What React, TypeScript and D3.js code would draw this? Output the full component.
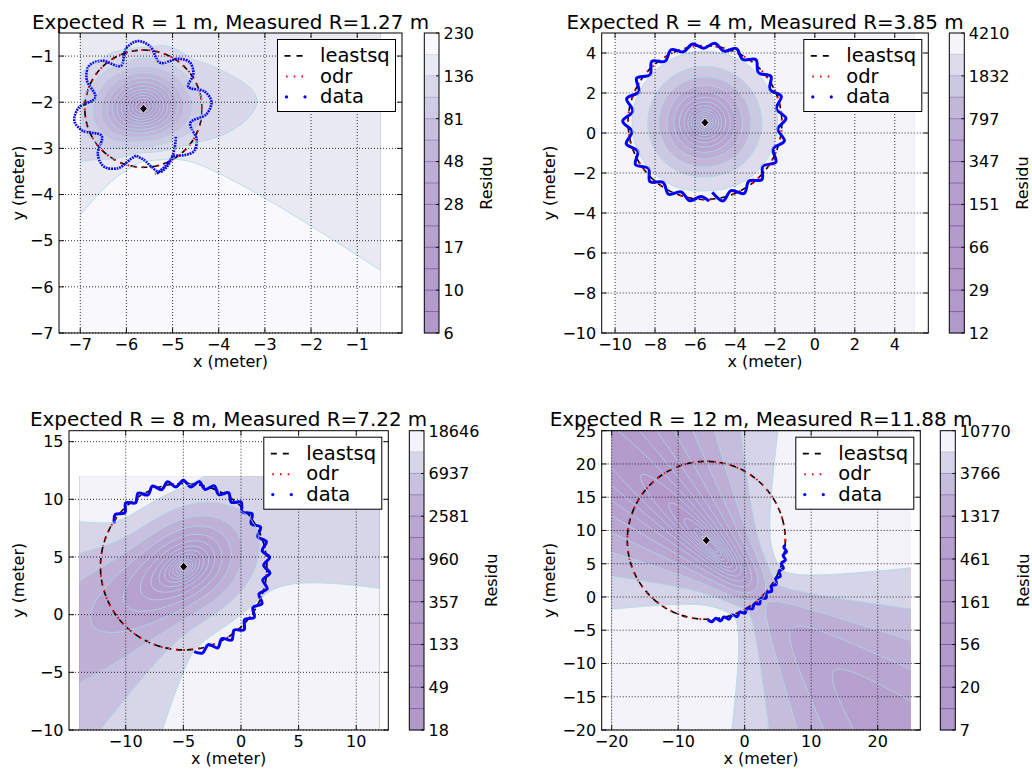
import React from "react";
import * as d3 from "d3";

type Pt = [number, number];

// ---------------- data ----------------
const TITLES = [
  "Expected R = 1 m, Measured R=1.27 m",
  "Expected R = 4 m, Measured R=3.85 m",
  "Expected R = 8 m, Measured R=7.22 m",
  "Expected R = 12 m, Measured R=11.88 m",
];
const LEGEND_LABELS = ["leastsq", "odr", "data"];
const X_LABEL = "x (meter)";
const Y_LABEL = "y (meter)";
const CBAR_LABEL = "Residu";

// fitted circle: centre x, centre y, radius (m)
const FIT_1: [number, number, number] = [-5.63, -2.14, 1.27];
const FIT_2: [number, number, number] = [-5.5, 0.52, 3.85];
const FIT_3: [number, number, number] = [-4.97, 4.16, 7.22];
const FIT_4: [number, number, number] = [-5.77, 8.52, 11.88];

// measured track, read as [angle (deg), distance (m)] about the fitted centre
const DATA_1: Pt[] = [
  [-41, 0.93], [-50, 1.06], [-59, 1.21], [-66, 1.33], [-71, 1.39], [-75, 1.42], [-77, 1.4], [-79, 1.36],
  [-81, 1.3], [-83, 1.25], [-85, 1.2], [-87, 1.15], [-89, 1.12], [-91, 1.09], [-93, 1.07], [-95, 1.06],
  [-97, 1.04], [-99, 1.03], [-101, 1.06], [-104, 1.12], [-108, 1.24],
  [-113, 1.4], [-124, 1.52], [-135, 1.4], [-147, 1.08],
  [-160, 1.4], [-170, 1.52], [-181, 1.4], [-193, 1.07],
  [-207, 1.38], [-218, 1.5], [-229, 1.38], [-242, 1.05],
  [-254, 1.36], [-265, 1.47], [-276, 1.36], [-290, 1.06],
  [-305, 1.32], [-315, 1.42], [-325, 1.32], [-334, 1.08],
  [-344, 1.37], [-354, 1.48], [-365, 1.37], [-377, 1.06],
  [-390, 1.33], [-400, 1.43], [-408, 1.35], [-418, 1.22], [-425, 1.28], [-430, 1.34], [-434, 1.38],
  [-437, 1.42], [-440, 1.43],
];
const DATA_2: Pt[] = [
  [-84, 3.5], [-77, 4.02], [-69, 3.64], [-61, 4.05], [-53, 3.66], [-45, 4.03], [-37, 3.63], [-29, 4.06],
  [-21, 3.65], [-13, 4.08], [-5, 3.66], [3, 4.06], [11, 3.64], [19, 4.04], [27, 3.65], [35, 4.03],
  [43, 3.66], [51, 4.05], [59, 3.68], [67, 4.02], [75, 3.7], [83, 4.0], [91, 3.72], [99, 3.98],
  [107, 3.7], [115, 4.02], [123, 3.66], [131, 4.06], [139, 3.64], [147, 4.08], [155, 3.65], [163, 4.1],
  [171, 3.66], [179, 4.12], [187, 3.68], [195, 4.08], [203, 3.66], [211, 4.06], [219, 3.64], [227, 4.04],
  [235, 3.65], [243, 4.02], [251, 3.66], [259, 3.98], [267, 3.7], [273, 3.93],
];
const DATA_3: Pt[] = [
  [148, 7.1], [142.75, 7.46], [137.5, 6.92], [132.25, 7.48], [127, 6.94], [121.75, 7.5], [116.5, 6.95],
  [111.25, 7.5], [106, 6.94], [100.75, 7.49], [95.5, 6.95], [90.25, 7.5], [85, 6.94], [79.75, 7.5],
  [74.5, 6.95], [69.25, 7.49], [64, 6.94], [58.75, 7.5], [53.5, 6.95], [48.25, 7.49], [43, 6.94],
  [37.75, 7.5], [32.5, 6.95], [27.25, 7.5], [22, 6.94], [16.75, 7.49], [11.5, 6.95], [6.25, 7.5],
  [1, 6.94], [-4.25, 7.5], [-9.5, 6.95], [-14.75, 7.49], [-20, 6.95], [-25.25, 7.51], [-30.5, 6.97],
  [-35.75, 7.54], [-41, 7.0], [-46.25, 7.57], [-51.5, 7.03], [-56.75, 7.6], [-62, 7.06], [-67.25, 7.63],
  [-72.5, 7.09], [-77.75, 7.66], [-83, 7.42],
];
const DATA_4: Pt[] = [
  [-89, 11.95], [-86, 12.27], [-83, 11.8], [-80, 12.3], [-77, 11.83], [-74, 12.33], [-71, 11.87],
  [-68, 12.37], [-65, 11.9], [-62, 12.4], [-59, 11.93], [-56, 12.43], [-53, 11.96], [-50, 12.46],
  [-47, 11.99], [-44, 12.48], [-41, 11.98], [-38, 12.46], [-35, 11.96], [-32, 12.43], [-29, 11.92],
  [-26, 12.38], [-23, 11.88], [-20, 12.33], [-17, 11.83], [-14, 12.26], [-11, 11.76], [-8, 12.18],
  [-5, 11.7], [-3.5, 11.9],
];

const XTICKS_1 = [-7, -6, -5, -4, -3, -2, -1];
const YTICKS_1 = [-7, -6, -5, -4, -3, -2, -1];
const XTICKS_2 = [-10, -8, -6, -4, -2, 0, 2, 4];
const YTICKS_2 = [-10, -8, -6, -4, -2, 0, 2, 4];
const XTICKS_3 = [-10, -5, 0, 5, 10];
const YTICKS_3 = [-10, -5, 0, 5, 10, 15];
const XTICKS_4 = [-20, -10, 0, 10, 20];
const YTICKS_4 = [-20, -15, -10, -5, 0, 5, 10, 15, 20, 25];

const CBAR_TICKS_1 = [6, 10, 17, 28, 48, 81, 136, 230];
const CBAR_TICKS_2 = [12, 29, 66, 151, 347, 797, 1832, 4210];
const CBAR_TICKS_3 = [18, 49, 133, 357, 960, 2581, 6937, 18646];
const CBAR_TICKS_4 = [7, 20, 56, 161, 461, 1317, 3766, 10770];

const XLIM_1: Pt = [-7.46, -0.03];
const YLIM_1: Pt = [-7, -0.5];
const XLIM_2: Pt = [-10.67, 5.68];
const YLIM_2: Pt = [-10, 5];
const XLIM_3: Pt = [-14.92, 12.78];
const YLIM_3: Pt = [-10, 15.95];
const XLIM_4: Pt = [-21.5, 26.41];
const YLIM_4: Pt = [-20, 25];

// span of the residual grid (square)
const FIELD_1: Pt = [-7, -0.5];
const FIELD_2: Pt = [-10, 5];
const FIELD_3: Pt = [-14, 12];
const FIELD_4: Pt = [-20, 25];

// ---------------- layout ----------------
const LAYOUT = [
  { x0: 59, x1: 402, y0: 33, y1: 333, cb0: 424.3, cb1: 439, titleY: 29, yLabX: 23.6, resX: 492, dotted: true },
  { x0: 601.7, x1: 928.3, y0: 33, y1: 333, cb0: 949.3, cb1: 964.3, titleY: 29, yLabX: 555.4, resX: 1027.8, dotted: false },
  { x0: 69, x1: 388.3, y0: 430.7, y1: 730, cb0: 409.3, cb1: 424, titleY: 426, yLabX: 23.6, resX: 497.3, dotted: false },
  { x0: 601.7, x1: 920.3, y0: 430.7, y1: 730, cb0: 940.3, cb1: 955.3, titleY: 426, yLabX: 555.4, resX: 1029.4, dotted: false },
];

const PANELS = [
  { title: TITLES[0], fit: FIT_1, data: DATA_1, xt: XTICKS_1, yt: YTICKS_1, cbt: CBAR_TICKS_1, xlim: XLIM_1, ylim: YLIM_1, field: FIELD_1 },
  { title: TITLES[1], fit: FIT_2, data: DATA_2, xt: XTICKS_2, yt: YTICKS_2, cbt: CBAR_TICKS_2, xlim: XLIM_2, ylim: YLIM_2, field: FIELD_2 },
  { title: TITLES[2], fit: FIT_3, data: DATA_3, xt: XTICKS_3, yt: YTICKS_3, cbt: CBAR_TICKS_3, xlim: XLIM_3, ylim: YLIM_3, field: FIELD_3 },
  { title: TITLES[3], fit: FIT_4, data: DATA_4, xt: XTICKS_4, yt: YTICKS_4, cbt: CBAR_TICKS_4, xlim: XLIM_4, ylim: YLIM_4, field: FIELD_4 },
].map((p, i) => ({ ...p, ...LAYOUT[i] }));

// ---------------- helpers ----------------
const FONT = "DejaVu Sans, Liberation Sans, sans-serif";
const PURPLES = ["#fcfbfd", "#efedf5", "#dadaeb", "#bcbddc", "#9e9ac8", "#807dba", "#6a51a3", "#54278f", "#3f007d"];
const purples = d3
  .scaleLinear<string>()
  .domain(PURPLES.map((_, i) => i / 8))
  .range(PURPLES)
  .interpolate(d3.interpolateRgb)
  .clamp(true);
const withAlpha = (c: string) => d3.interpolateRgb("#ffffff", c)(0.4);

function logLevels(lo: number, hi: number, n = 15) {
  const a = Math.log(lo);
  const b = Math.log(hi);
  return d3.range(n).map((i) => Math.exp(a + ((b - a) * i) / (n - 1)));
}
function bandRaw(lo: number, hi: number) {
  const lv = logLevels(lo, hi);
  return d3.range(lv.length - 1).map((i) => {
    const mid = (lv[i] + lv[i + 1]) / 2;
    const t = (mid - lv[0]) / (lv[lv.length - 1] - lv[0]);
    return purples(1 - t);
  });
}
function residuField(pts: Pt[], vmin: number, vmax: number, n: number) {
  const step = (vmax - vmin) / (n - 1);
  const vals: number[] = new Array(n * n);
  const d: number[] = new Array(pts.length);
  for (let j = 0; j < n; j++) {
    const yg = vmin + j * step;
    for (let i = 0; i < n; i++) {
      const xg = vmin + i * step;
      let m = 0;
      for (let k = 0; k < pts.length; k++) {
        const v = Math.hypot(xg - pts[k][0], yg - pts[k][1]);
        d[k] = v;
        m += v;
      }
      m /= pts.length;
      let s = 0;
      for (let k = 0; k < pts.length; k++) s += (d[k] - m) * (d[k] - m);
      vals[j * n + i] = s;
    }
  }
  return { vals, step };
}
const fmt = (v: number) => (v < 0 ? "\u2212" + Math.abs(v) : String(v));

function Panel({ p, idx }: { p: any; idx: number }) {
  const { x0, x1, y0, y1 } = p;
  const sx = d3.scaleLinear().domain(p.xlim).range([x0, x1]);
  const sy = d3.scaleLinear().domain(p.ylim).range([y1, y0]);
  const [cx, cy, R] = p.fit;
  const pts: Pt[] = p.data.map(([a, r]: Pt) => [
    cx + r * Math.cos((a * Math.PI) / 180),
    cy + r * Math.sin((a * Math.PI) / 180),
  ]);

  const n = 100;
  const [vmin, vmax] = p.field;
  const { vals, step } = residuField(pts, vmin, vmax, n);
  const lo = d3.min(vals) as number;
  const hi = d3.max(vals) as number;
  const lv = logLevels(lo, hi);
  const raw = bandRaw(p.cbt[0], p.cbt[p.cbt.length - 1]);
  const colors = raw.map(withAlpha);
  const seams = raw.map((c) => d3.interpolateRgb(withAlpha(c), c)(0.4));
  const gen = d3.contours().size([n, n]);
  const proj = d3.geoTransform({
    point: function (this: any, x: number, y: number) {
      this.stream.point(sx(vmin + (x - 0.5) * step), sy(vmin + (y - 0.5) * step));
    },
  });
  const gp = d3.geoPath(proj);
  const bandPaths = d3.range(1, 14).map((i) => gp(gen.contour(vals, lv[i]) as any) || "");

  // clip rectangles
  const fx0 = Math.max(x0, sx(vmin));
  const fx1 = Math.min(x1, sx(vmax));
  const fy0 = Math.max(y0, sy(vmax));
  const fy1 = Math.min(y1, sy(vmin));
  const clipF = `clipF${idx}`;
  const clipA = `clipA${idx}`;

  const line = d3
    .line<Pt>()
    .x((d) => sx(d[0]))
    .y((d) => sy(d[1]))
    .curve(d3.curveCatmullRom.alpha(0.5));
  const rpx = sx(cx + R) - sx(cx);
  const mx = sx(cx);
  const my = sy(cy);

  // colorbar
  const cbH = (y1 - y0) / 14;
  const cbW = p.cb1 - p.cb0;

  // legend
  const lw = 118;
  const lh = 72;
  const lx = x1 - 6.5 - lw;
  const ly = y0 + 6.5;
  const rows = [ly + 16.4, ly + 37, ly + 57.4];

  return (
    <g fontFamily={FONT}>
      <defs>
        <clipPath id={clipF}>
          <rect x={fx0} y={fy0} width={fx1 - fx0} height={fy1 - fy0} />
        </clipPath>
        <clipPath id={clipA}>
          <rect x={x0} y={y0} width={x1 - x0} height={y1 - y0} />
        </clipPath>
      </defs>
      <rect x={x0} y={y0} width={x1 - x0} height={y1 - y0} fill="#ffffff" />
      <g clipPath={`url(#${clipF})`}>
        <rect x={fx0} y={fy0} width={fx1 - fx0} height={fy1 - fy0} fill={colors[0]} />
        {bandPaths.map((d, i) => (
          <path key={i} d={d} fill={colors[i + 1]} fillRule="evenodd" stroke="none" />
        ))}
      </g>
      <g clipPath={`url(#${clipA})`}>
        <circle cx={mx} cy={my} r={rpx} fill="none" stroke="#000" strokeWidth={1.6} strokeDasharray="6 5" />
        <circle cx={mx} cy={my} r={rpx} fill="none" stroke="#ff0000" strokeWidth={2} strokeDasharray="1.6 6" />
        <path
          d={line(pts) || ""}
          fill="none"
          stroke="#0000ff"
          strokeWidth={p.dotted ? 2.6 : 3}
          strokeDasharray={p.dotted ? "1.8 0.9" : undefined}
          strokeLinejoin="round"
        />
      </g>
      <g clipPath={`url(#${clipF})`}>
        {bandPaths.map((d, i) => (
          <path key={i} d={d} fill="none" stroke="#add8e6" strokeOpacity={0.8} strokeWidth={1} />
        ))}
      </g>
      <path
        d={`M${mx},${my - 4.5}L${mx + 4},${my}L${mx},${my + 4.5}L${mx - 4},${my}Z`}
        fill="#000"
        stroke="#ffe8e8"
        strokeWidth={1}
      />
      {/* grid */}
      <g stroke="#000" strokeWidth={0.8} strokeDasharray="1 2">
        {p.xt.map((t: number) => (
          <line key={"gx" + t} x1={sx(t)} x2={sx(t)} y1={y0} y2={y1} />
        ))}
        {p.yt.map((t: number) => (
          <line key={"gy" + t} x1={x0} x2={x1} y1={sy(t)} y2={sy(t)} />
        ))}
      </g>
      {/* frame & ticks */}
      <rect x={x0} y={y0} width={x1 - x0} height={y1 - y0} fill="none" stroke="#000" strokeWidth={1} />
      <g stroke="#000" strokeWidth={0.9}>
        {p.xt.map((t: number) => (
          <g key={"tx" + t}>
            <line x1={sx(t)} x2={sx(t)} y1={y1} y2={y1 - 5} />
            <line x1={sx(t)} x2={sx(t)} y1={y0} y2={y0 + 5} />
          </g>
        ))}
        {p.yt.map((t: number) => (
          <g key={"ty" + t}>
            <line x1={x0} x2={x0 + 5} y1={sy(t)} y2={sy(t)} />
            <line x1={x1} x2={x1 - 5} y1={sy(t)} y2={sy(t)} />
          </g>
        ))}
      </g>
      <g fontSize={16} fill="#000">
        {p.xt.map((t: number) => (
          <text key={"lx" + t} x={sx(t)} y={y1 + 16.5} textAnchor="middle">
            {fmt(t)}
          </text>
        ))}
        {p.yt.map((t: number) => (
          <text key={"ly" + t} x={x0 - 5.5} y={sy(t) + 5.8} textAnchor="end">
            {fmt(t)}
          </text>
        ))}
        <text x={(x0 + x1) / 2} y={y1 + 33.7} textAnchor="middle">
          {X_LABEL}
        </text>
        <text transform={`translate(${p.yLabX},${(y0 + y1) / 2}) rotate(-90)`} textAnchor="middle">
          {Y_LABEL}
        </text>
      </g>
      <text x={(x0 + x1) / 2} y={p.titleY} textAnchor="middle" fontSize={19.9} fill="#000">
        {p.title}
      </text>
      {/* legend */}
      <rect x={lx} y={ly} width={lw} height={lh} fill="#fff" stroke="#000" strokeWidth={1} />
      <line x1={lx + 7} x2={lx + 27} y1={rows[0]} y2={rows[0]} stroke="#000" strokeWidth={1.6} strokeDasharray="6 6" />
      <line x1={lx + 8.5} x2={lx + 27} y1={rows[1]} y2={rows[1]} stroke="#ff0000" strokeWidth={2} strokeDasharray="1.6 6.1" />
      <circle cx={lx + 9} cy={rows[2]} r={1.6} fill="#0000ff" />
      <circle cx={lx + 27.5} cy={rows[2]} r={1.6} fill="#0000ff" />
      {LEGEND_LABELS.map((s, i) => (
        <text key={s} x={lx + 42.5} y={rows[i] + 6} fontSize={19.5} fill="#000">
          {s}
        </text>
      ))}
      {/* colorbar */}
      {colors.map((c, i) => (
        <rect key={"cb" + i} x={p.cb0} y={y1 - (i + 1) * cbH} width={cbW} height={cbH + 0.3} fill={c} />
      ))}
      {seams.slice(0, 13).map((c, i) => (
        <line
          key={"cbl" + i}
          x1={p.cb0}
          x2={p.cb1}
          y1={y1 - (i + 1) * cbH}
          y2={y1 - (i + 1) * cbH}
          stroke={c}
          strokeWidth={1}
        />
      ))}
      <rect x={p.cb0} y={y0} width={cbW} height={y1 - y0} fill="none" stroke="#000" strokeWidth={1} />
      {p.cbt.map((t: number, i: number) => {
        const yy = y1 - i * 2 * cbH;
        return (
          <g key={"cbt" + i}>
            <line x1={p.cb1 - 3} x2={p.cb1} y1={yy} y2={yy} stroke="#000" strokeWidth={0.9} />
            <text x={p.cb1 + 4.5} y={yy + 5.8} fontSize={16} fill="#000">
              {String(t)}
            </text>
          </g>
        );
      })}
      <text transform={`translate(${p.resX},${(y0 + y1) / 2}) rotate(-90)`} textAnchor="middle" fontSize={16} fill="#000">
        {CBAR_LABEL}
      </text>
    </g>
  );
}

export default function App() {
  return (
    <svg
      width={1032}
      height={769}
      viewBox="0 0 1032 769"
      style={{ position: "absolute", left: 0, top: 0, background: "#fff" }}
    >
      <rect width={1032} height={769} fill="#fff" />
      {PANELS.map((p, i) => (
        <Panel key={i} p={p} idx={i} />
      ))}
    </svg>
  );
}
